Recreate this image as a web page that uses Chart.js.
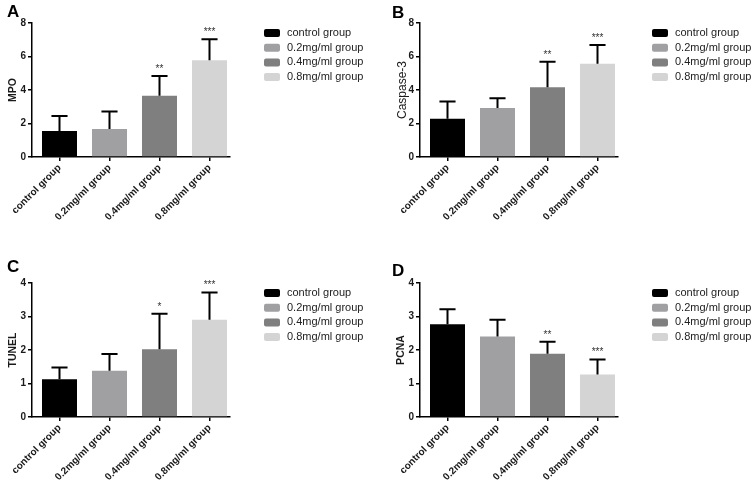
<!DOCTYPE html>
<html>
<head>
<meta charset="utf-8">
<script src="https://cdn.jsdelivr.net/npm/chart.js@4"></script>
<style>
  html, body { margin: 0; padding: 0; background: #fff; width: 753px; height: 482px; overflow: hidden; position: relative; }
  .panel { position: absolute; width: 388px; height: 260px; }
  .panel canvas { position: absolute; left: 0; top: 0; }
  .tag { position: absolute; font: bold 17px "Liberation Sans", Arial, sans-serif; line-height: 1; color: #000; }
</style>
</head>
<body>
<div class="panel" style="left:0;top:0"><canvas id="chartA" width="388" height="260"></canvas></div>
<div class="panel" style="left:388px;top:0"><canvas id="chartB" width="388" height="260"></canvas></div>
<div class="panel" style="left:0;top:260px"><canvas id="chartC" width="388" height="260"></canvas></div>
<div class="panel" style="left:388px;top:260px"><canvas id="chartD" width="388" height="260"></canvas></div>
<div class="tag" style="left:7px;top:3px">A</div>
<div class="tag" style="left:392px;top:4px">B</div>
<div class="tag" style="left:7px;top:258px">C</div>
<div class="tag" style="left:392px;top:262px">D</div>

<script>
// data
const groups = ["control group", "0.2mg/ml group", "0.4mg/ml group", "0.8mg/ml group"];

const mpoMean = [1.55, 1.67, 3.66, 5.77];
const mpoSD = [0.90, 1.05, 1.18, 1.26];
const mpoSig = ["", "", "**", "***"];

const casMean = [2.28, 2.92, 4.17, 5.56];
const casSD = [1.03, 0.59, 1.51, 1.13];
const casSig = ["", "", "**", "***"];

const tunelMean = [1.13, 1.38, 2.02, 2.90];
const tunelSD = [0.35, 0.50, 1.06, 0.82];
const tunelSig = ["", "", "*", "***"];

const pcnaMean = [2.77, 2.40, 1.89, 1.27];
const pcnaSD = [0.45, 0.50, 0.36, 0.45];
const pcnaSig = ["", "", "**", "***"];

const ticksAB = [0, 2, 4, 6, 8];
const ticksCD = [0, 1, 2, 3, 4];

const barColors = ["#000000", "#a0a0a2", "#7f7f7f", "#d4d4d4"];
const FONT = '"Liberation Sans", Arial, sans-serif';

// error bars, stars and the legend
const extras = {
  id: "extras",
  afterDatasetsDraw(chart, args, opts) {
    const ctx = chart.ctx;
    const y = chart.scales.y;
    const bars = chart.getDatasetMeta(0).data;
    ctx.save();
    bars.forEach((bar, i) => {
      const base = y.getPixelForValue(opts.mean[i]);
      const top = y.getPixelForValue(opts.mean[i] + opts.sd[i]);
      const cap = bar.width * 0.23;
      ctx.strokeStyle = "#000";
      ctx.lineWidth = 2;
      ctx.beginPath();
      ctx.moveTo(bar.x, base);
      ctx.lineTo(bar.x, top);
      ctx.moveTo(bar.x - cap, top);
      ctx.lineTo(bar.x + cap, top);
      ctx.stroke();
      if (opts.sig[i]) {
        ctx.fillStyle = "#333";
        ctx.font = "10px " + FONT;
        ctx.textAlign = "center";
        ctx.textBaseline = "alphabetic";
        ctx.fillText(opts.sig[i], bar.x, top - 4);
      }
    });

    // legend
    const lx = chart.chartArea.right + 34;
    const ly = chart.chartArea.top + 10;
    ctx.font = "11px " + FONT;
    ctx.textAlign = "left";
    ctx.textBaseline = "middle";
    chart.data.labels.forEach((lab, i) => {
      const cy = ly + i * 14.7;
      ctx.fillStyle = barColors[i];
      ctx.beginPath();
      ctx.roundRect(lx, cy - 4, 16, 8, 2);
      ctx.fill();
      ctx.fillStyle = "#222";
      ctx.fillText(lab, lx + 23, cy);
    });
    ctx.restore();
  }
};

function makePanel(id, title, titleFont, mean, sd, sig, ticks) {
  new Chart(document.getElementById(id), {
    type: "bar",
    data: {
      labels: groups,
      datasets: [{
        data: mean,
        backgroundColor: barColors,
        barPercentage: 0.7,
        categoryPercentage: 1
      }]
    },
    options: {
      responsive: false,
      animation: false,
      devicePixelRatio: 1,
      layout: { padding: { top: 23, right: 158, bottom: 0, left: 0 } },
      plugins: {
        legend: { display: false },
        tooltip: { enabled: false },
        extras: { mean: mean, sd: sd, sig: sig }
      },
      scales: {
        x: {
          grid: { display: true, drawOnChartArea: false, offset: false, color: "#000", lineWidth: 1.5, tickLength: 4 },
          border: { display: true, color: "#000", width: 1.5 },
          ticks: {
            color: "#1a1a1a",
            font: { family: FONT, size: 10, weight: "bold" },
            minRotation: 45, maxRotation: 45, autoSkip: false, padding: 1
          },
          // the bars sit a little right of centre in the original
          afterBuildTicks: (s) => { s._startValue = -0.55; s._valueRange = 3.96; },
          afterFit: (s) => { s.height = 103; }
        },
        y: {
          min: ticks[0],
          max: ticks[ticks.length - 1],
          grid: { display: true, drawOnChartArea: false, color: "#000", lineWidth: 1.5, tickLength: 4 },
          border: { display: true, color: "#000", width: 1.5 },
          ticks: {
            stepSize: ticks[1] - ticks[0],
            color: "#1a1a1a",
            font: { family: FONT, size: 10, weight: "bold" },
            padding: 2
          },
          title: {
            display: true,
            text: title,
            color: "#1a1a1a",
            font: titleFont,
            padding: { top: 7, bottom: 0 }
          },
          afterFit: (s) => { s.width = 32; }
        }
      }
    },
    plugins: [extras]
  });
}

const boldTitle = { family: FONT, size: 10.5, weight: "bold" };
const plainTitle = { family: FONT, size: 12, weight: "normal" };

makePanel("chartA", "MPO", boldTitle, mpoMean, mpoSD, mpoSig, ticksAB);
makePanel("chartB", "Caspase-3", plainTitle, casMean, casSD, casSig, ticksAB);
makePanel("chartC", "TUNEL", boldTitle, tunelMean, tunelSD, tunelSig, ticksCD);
makePanel("chartD", "PCNA", boldTitle, pcnaMean, pcnaSD, pcnaSig, ticksCD);
</script>
</body>
</html>
